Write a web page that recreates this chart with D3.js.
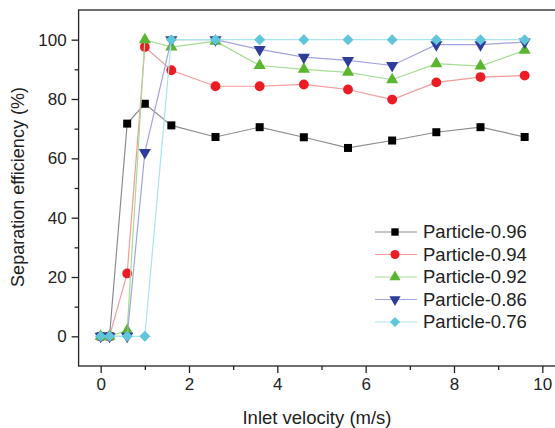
<!DOCTYPE html>
<html>
<head>
<meta charset="utf-8">
<script src="https://cdn.jsdelivr.net/npm/d3@7"></script>
<style>
  body { margin: 0; background: #fff; }
  svg { display: block; overflow: hidden; }
  text { font-family: "Liberation Sans", Arial, sans-serif; fill: #222; }
</style>
</head>
<body>
<svg id="chart"></svg>
<script>
// Data
const velocity = [0, 0.2, 0.6, 1.0, 1.6, 2.6, 3.6, 4.6, 5.6, 6.6, 7.6, 8.6, 9.6];
const p096 = [0, 0, 71.7, 78.4, 71.1, 67.2, 70.5, 67.1, 63.5, 66.0, 68.8, 70.5, 67.2];
const p094 = [0, 0, 21.2, 97.5, 89.7, 84.3, 84.3, 84.9, 83.2, 79.8, 85.6, 87.4, 87.9];
const p092 = [0, 0, 2.0, 100, 97.5, 99.5, 91.3, 90.0, 89.0, 86.5, 91.9, 91.1, 96.4];
const p086 = [0, 0, 0, 62.0, 100, 100, 96.7, 94.1, 93.0, 91.3, 98.3, 98.3, 99.2];
const p076 = [0, 0, 0, 0, 100, 100, 100, 100, 100, 100, 100, 100, 100];
const seriesNames = ["Particle-0.96", "Particle-0.94", "Particle-0.92", "Particle-0.86", "Particle-0.76"];
const xTicks = [0, 2, 4, 6, 8, 10];
const yTicks = [0, 20, 40, 60, 80, 100];

// rot: extra rotation of the symbol (down triangle, diamond from a square)
const series = [
  { name: seriesNames[0], values: p096, line: "#8c8c8c", fill: "#000000", shape: d3.symbolSquare, size: 64, rot: 0 },
  { name: seriesNames[1], values: p094, line: "#f59a9a", fill: "#ec1c24", shape: d3.symbolCircle, size: 76, rot: 0 },
  { name: seriesNames[2], values: p092, line: "#a6dc94", fill: "#5cb531", shape: d3.symbolTriangle, size: 64, rot: 0 },
  { name: seriesNames[3], values: p086, line: "#a3a3dc", fill: "#2e3d99", shape: d3.symbolTriangle, size: 64, rot: 180 },
  { name: seriesNames[4], values: p076, line: "#a9e3ee", fill: "#5fc6dc", shape: d3.symbolSquare, size: 60, rot: 45 }
];

const width = 555;
const height = 428;
const margin = { top: 10, left: 78.6, bottom: 62 };
const plotRight = 564.4; // right border is cut off by the picture

const svg = d3.select("#chart")
  .attr("width", width)
  .attr("height", height);

const x = d3.scaleLinear().domain([-0.5, 10.5]).range([margin.left, plotRight]);
const y = d3.scaleLinear().domain([-10, 110]).range([height - margin.bottom, margin.top]);

// Frame
svg.append("rect")
  .attr("x", margin.left)
  .attr("y", margin.top)
  .attr("width", plotRight - margin.left)
  .attr("height", y(-10) - margin.top)
  .attr("fill", "none")
  .attr("stroke", "#222")
  .attr("stroke-width", 1.3);

// Axes
const xAxis = svg.append("g")
  .attr("transform", `translate(0, ${y(-10)})`)
  .call(d3.axisBottom(x).tickValues(xTicks).tickSize(7).tickPadding(5).tickFormat(d3.format("d")));
xAxis.append("g")
  .call(d3.axisBottom(x).tickValues([1, 3, 5, 7, 9]).tickSize(4).tickFormat(""));

const yAxis = svg.append("g")
  .attr("transform", `translate(${margin.left}, 0)`)
  .call(d3.axisLeft(y).tickValues(yTicks).tickSize(7).tickPadding(5).tickFormat(d3.format("d")));
yAxis.append("g")
  .call(d3.axisLeft(y).tickValues([10, 30, 50, 70, 90]).tickSize(4).tickFormat(""));

svg.selectAll(".domain").remove();
svg.selectAll(".tick line").attr("stroke", "#222").attr("stroke-width", 1.3);
xAxis.selectAll("text").attr("font-size", 17).style("fill", "#222");
yAxis.selectAll("text").attr("font-size", 17).style("fill", "#222");

// Axis titles
svg.append("text")
  .attr("x", 317)
  .attr("y", 424)
  .attr("text-anchor", "middle")
  .attr("font-size", 18.5)
  .text("Inlet velocity (m/s)");

svg.append("text")
  .attr("transform", `translate(24, 187) rotate(-90)`)
  .attr("text-anchor", "middle")
  .attr("font-size", 18)
  .text("Separation efficiency (%)");

// Lines and markers
const line = d3.line()
  .x((d, i) => x(velocity[i]))
  .y(d => y(d));

series.forEach(s => {
  svg.append("path")
    .datum(s.values)
    .attr("fill", "none")
    .attr("stroke", s.line)
    .attr("stroke-width", 1.2)
    .attr("d", line);

  svg.append("g")
    .selectAll("path")
    .data(s.values)
    .join("path")
    .attr("d", d3.symbol(s.shape, s.size))
    .attr("transform", (d, i) => `translate(${x(velocity[i])}, ${y(d)}) rotate(${s.rot})`)
    .attr("fill", s.fill);
});

// Legend
const legend = svg.append("g").attr("transform", "translate(375, 232)");
const rows = legend.selectAll("g")
  .data(series)
  .join("g")
  .attr("transform", (d, i) => `translate(0, ${i * 22.5})`);

rows.append("line")
  .attr("x1", 0).attr("x2", 42)
  .attr("stroke", d => d.line)
  .attr("stroke-width", 1.2);

rows.append("path")
  .attr("d", d => d3.symbol(d.shape, d.size * 0.85)())
  .attr("transform", d => `translate(20, 0) rotate(${d.rot})`)
  .attr("fill", d => d.fill);

rows.append("text")
  .attr("x", 48)
  .attr("dy", "0.35em")
  .attr("font-size", 18.5)
  .text(d => d.name);
</script>
</body>
</html>
